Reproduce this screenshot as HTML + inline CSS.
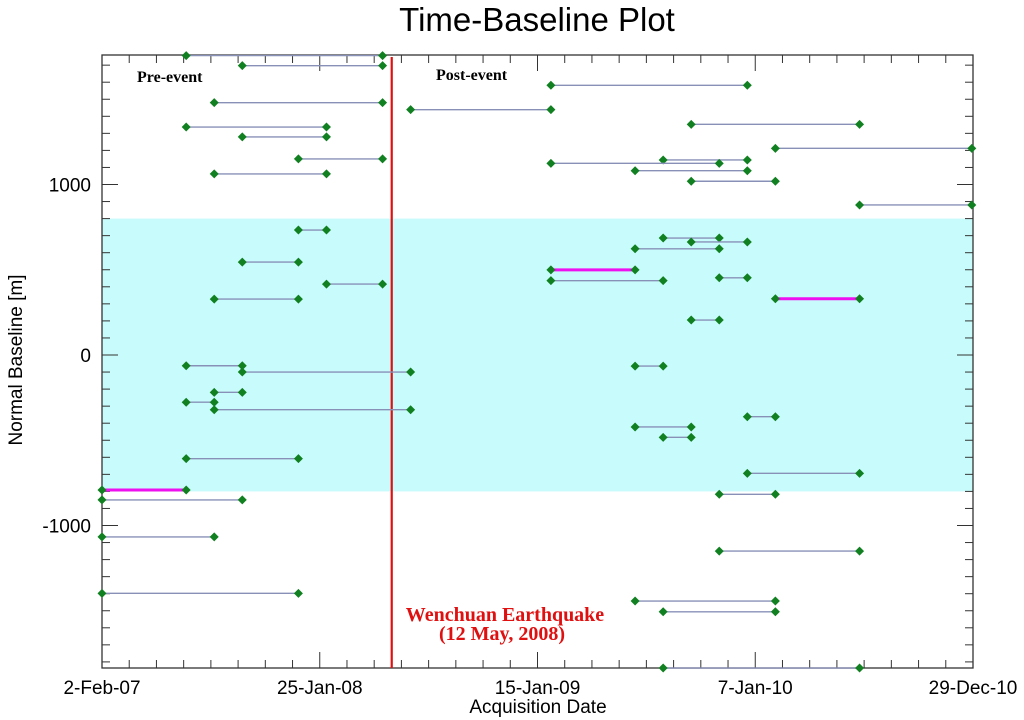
<!DOCTYPE html>
<html><head><meta charset="utf-8"><style>
body{margin:0;background:#fff;}
svg{display:block;}
</style></head><body>
<svg id="chart" width="1024" height="720" xmlns="http://www.w3.org/2000/svg" font-family="Liberation Sans, sans-serif">
<text x="537" y="31" font-size="33" text-anchor="middle" fill="#000">Time-Baseline Plot</text>
<g id="plot"></g>
</svg>
<script>
// Acquisition indices (units of 46-day cycles from 2-Feb-07), baselines in metres
const pairStart = [3,5,4,3,5,7,4,11,7,5,8,4,3,5,4,3,4,3,0,0,0,0, 16,21,24,20,16,19,21,27,20,21,19,16,16,22,24,21,19,23,19,20,23,22,22,19,20,20];
const pairEnd   = [10,10,10,8,8,10,8,16,8,7,10,7,5,11,5,4,11,7,3,5,4,7, 23,27,31,23,22,23,24,31,22,23,22,19,20,23,27,22,20,24,21,21,27,24,27,24,24,27];
const baselines = [1756,1697,1480,1337,1279,1150,1062,1439,733,545,416,328,-63,-100,-219,-277,-321,-608,-792,-850,-1067,-1398,
                   1582,1353,1212,1144,1124,1081,1019,880,686,663,623,499,436,453,330,205,-65,-362,-422,-483,-694,-817,-1150,-1443,-1506,-1836];
const highlighted = [18,33,36];
const xTickLabels = ['2-Feb-07','25-Jan-08','15-Jan-09','7-Jan-10','29-Dec-10'];
const xTickDays = [0,357,714,1071,1428];
const yTickLabels = ['1000','0','-1000'];
const yTickValues = [1000,0,-1000];
const eventDay = 475;
const cycleDays = 46;

const L=102,R=973,T=55,B=668;
const xScale=d=>L+d*(R-L)/1428;
const yScale=v=>355-v*0.1705;
const ns='http://www.w3.org/2000/svg';
const g=document.getElementById('plot');
function mk(tag,attrs,parent){const e=document.createElementNS(ns,tag);for(const k in attrs)e.setAttribute(k,attrs[k]);(parent||g).appendChild(e);return e;}

const band=mk('rect',{x:L,y:yScale(800),width:R-L,height:yScale(-800)-yScale(800),fill:'#c8fcfc'});



for(let i=0;i<=32;i++){
  const x=xScale(i*1428/32);const maj=i%8===0;const len=maj?16:8;
  const t1=mk('line',{x1:x,x2:x,y1:T,y2:T+len,stroke:'#333','stroke-width':1});
  
  
  const t2=mk('line',{x1:x,x2:x,y1:B,y2:B-len,stroke:'#333','stroke-width':1});
  
  
}
for(let v=-1800;v<=1700;v+=100){
  const y=yScale(v);const maj=v%1000===0;const len=maj?16:8;
  const t1=mk('line',{x1:L,x2:L+len,y1:y,y2:y,stroke:'#333','stroke-width':1});
  
  
  const t2=mk('line',{x1:R,x2:R-len,y1:y,y2:y,stroke:'#333','stroke-width':1});
  
  
}
const frame=mk('rect',{x:L,y:T,width:R-L,height:B-T,fill:'none',stroke:'#333','stroke-width':1.3});



xTickLabels.forEach((s,i)=>{
  const t=mk('text',{x:xScale(xTickDays[i]),y:694,'font-size':19,'text-anchor':'middle',fill:'#000'});
  t.textContent=s;
  
  
});
yTickLabels.forEach((s,i)=>{
  const t=mk('text',{x:91,y:yScale(yTickValues[i])+7,'font-size':19,'text-anchor':'end',fill:'#000'});
  t.textContent=s;
  
  
});
const xt=mk('text',{x:538,y:713,'font-size':19,'text-anchor':'middle',fill:'#000'});
xt.textContent='Acquisition Date';


const yt=mk('text',{x:0,y:0,'font-size':19,'text-anchor':'middle',fill:'#000',transform:'translate(22,360) rotate(-90)'});
yt.textContent='Normal Baseline [m]';



const ex=xScale(eventDay);
const el=mk('line',{x1:ex,x2:ex,y1:T+2,y2:B,stroke:'#e01010','stroke-width':2.2});



pairStart.forEach((s,i)=>{
  const x1=xScale(s*cycleDays),x2=xScale(pairEnd[i]*cycleDays),y=yScale(baselines[i]);
  const hl=highlighted.includes(i);
  const ln=mk('line',{x1:x1,x2:x2,y1:y,y2:y,stroke:hl?'#ee10ee':'#8890b8','stroke-width':hl?3:1.4});
  
  
  [x1,x2].forEach(x=>{
    const d=mk('path',{d:`M${x-4.5},${y}L${x},${y-4.5}L${x+4.5},${y}L${x},${y+4.5}Z`,fill:'#108020'});
    
    
  });
});

const pre=mk('text',{x:137,y:82,'font-size':16,'font-weight':'bold','font-family':'Liberation Serif, serif',fill:'#000'});
pre.textContent='Pre-event';


const post=mk('text',{x:436,y:80,'font-size':16,'font-weight':'bold','font-family':'Liberation Serif, serif',fill:'#000'});
post.textContent='Post-event';


const w1=mk('text',{x:505,y:621,'font-size':20,'font-weight':'bold','font-family':'Liberation Serif, serif','text-anchor':'middle',fill:'#e01010'});
w1.textContent='Wenchuan Earthquake';


const w2=mk('text',{x:502,y:640,'font-size':20,'font-weight':'bold','font-family':'Liberation Serif, serif','text-anchor':'middle',fill:'#e01010'});
w2.textContent='(12 May, 2008)';


</script>
</body></html>
